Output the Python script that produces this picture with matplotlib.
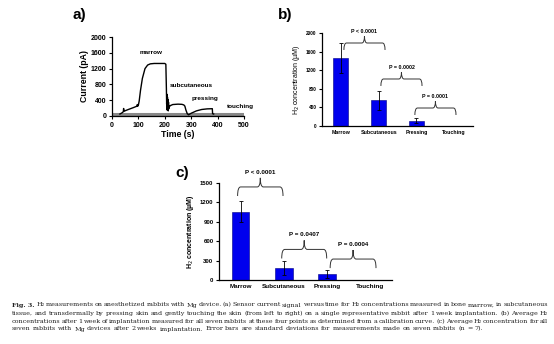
import matplotlib
matplotlib.use("Agg")
import matplotlib.pyplot as plt
from matplotlib.path import Path
from matplotlib.patches import PathPatch

plt.rcParams['font.family'] = ['Liberation Sans', 'DejaVu Sans']

# panel a: current trace from a single rabbit
time_s = [30, 38, 43, 44, 45, 47, 60, 80, 95, 96, 97, 100, 103, 108, 115, 125, 135, 145,
          160, 180, 200, 204, 206, 207, 208, 209, 210, 211, 212, 213, 214, 215, 216, 218,
          220, 230, 250, 265, 272, 276, 280, 285, 290, 300, 320, 340, 360, 380, 381, 385]
current_pa = [50, 80, 110, 190, 120, 125, 160, 210, 250, 290, 245, 280, 380, 650, 950, 1200,
              1290, 1320, 1330, 1330, 1330, 1310, 700, 300, 550, 150, 480, 200, 420, 130,
              350, 180, 260, 240, 260, 290, 300, 295, 280, 250, 150, 60, 30, 70, 130, 165,
              180, 185, 60, 50]
baseline_t = [0, 500]
baseline_pa = [50, 50]
trace_labels = ["marrow", "subcutaneous", "pressing", "touching"]
trace_label_x = [147, 302, 352, 487]
trace_label_y = [1614, 782, 454, 235]

# panels b and c: average H2 concentrations
sites = ["Marrow", "Subcutaneous", "Pressing", "Touching"]
week1_mean = [1455, 555, 115, 5]
week1_sd = [320, 205, 50, 0]
week2_mean = [1055, 185, 90, 3]
week2_sd = [165, 105, 62, 0]

week1_p = ["P < 0.0001", "P = 0.0002", "P = 0.0001"]
week1_brace_x = [(0.08, 1.17), (1.06, 2.15), (1.96, 3.05)]
week1_brace_y = [1785, 1011, 387]
week2_p = ["P < 0.0001", "P = 0.0407", "P = 0.0004"]
week2_brace_x = [(-0.07, 0.98), (0.95, 1.99), (2.07, 3.13)]
week2_brace_y = [1439, 473, 324]

caption_lines = [
    "H\u2082 measurements on anesthetized rabbits with Mg device. (a) Sensor current signal versus time for H\u2082 concentrations measured in bone marrow, in subcutaneous",
    "tissue, and transdermally by pressing skin and gently touching the skin (from left to right) on a single representative rabbit after 1 week implantation. (b) Average H\u2082",
    "concentrations after 1 week of implantation measured for all seven rabbits at these four points as determined from a calibration curve. (c) Average H\u2082 concentration for all",
    "seven rabbits with Mg devices after 2 weeks implantation. Error bars are standard deviations for measurements made on seven rabbits (n = 7).",
]

W, H = 554, 344
fig = plt.figure(figsize=(W / 100, H / 100), dpi=100)


def axes_px(l, t, r, b):
    return fig.add_axes([l / W, 1 - b / H, (r - l) / W, (b - t) / H])


def style(ax, size):
    for s in ("top", "right"):
        ax.spines[s].set_visible(False)
    for s in ("left", "bottom"):
        ax.spines[s].set_linewidth(0.9)
    ax.tick_params(labelsize=size, width=0.8, length=2.5, pad=1.5)
    for lab in ax.get_xticklabels() + ax.get_yticklabels():
        lab.set_fontweight("bold")


def brace(ax, x0, x1, y, d, r=0.07):
    xm = (x0 + x1) / 2
    verts = [(x0, y - d), (x0, y), (x0 + r, y),
             (xm - r, y), (xm, y), (xm, y + d),
             (xm, y), (xm + r, y),
             (x1 - r, y), (x1, y), (x1, y - d)]
    codes = [Path.MOVETO, Path.CURVE3, Path.CURVE3,
             Path.LINETO, Path.CURVE3, Path.CURVE3,
             Path.CURVE3, Path.CURVE3,
             Path.LINETO, Path.CURVE3, Path.CURVE3]
    ax.add_patch(PathPatch(Path(verts, codes), fill=False, lw=0.7,
                           edgecolor="#333333", clip_on=False))


# ---- panel a
ax = axes_px(112, 37, 244, 116)
ax.plot(baseline_t, baseline_pa, color="#888888", lw=2.2, solid_capstyle="butt")
ax.plot(time_s, current_pa, color="black", lw=1.0)
ax.set_xlim(0, 500)
ax.set_ylim(0, 2000)
ax.set_xticks(range(0, 501, 100))
ax.set_yticks(range(0, 2001, 400))
style(ax, 5)
ax.set_ylabel("Current (pA)", fontsize=6.3, fontweight="bold", labelpad=1)
ax.set_xlabel("Time (s)", fontsize=6.3, fontweight="bold", labelpad=1)
for t, x, y in zip(trace_labels, trace_label_x, trace_label_y):
    ax.text(x, y, t, fontsize=4.6, fontweight="bold", ha="center", va="center")
fig.text(79 / W, 1 - 15 / H, "a)", fontsize=11, fontweight="bold", ha="center", va="center")


def bar_panel(box, mean, sd, ymax, ystep, braces_x, braces_y, pvals, d, text_off,
              tick_fs, cat_fs, p_fs, ylab_fs, ylab_bold):
    ax = axes_px(*box)
    pos = range(len(sites))
    ax.bar(pos, mean, width=0.4, color="#0000ee", edgecolor="#000080", lw=0.4,
           yerr=sd, error_kw=dict(ecolor="black", elinewidth=0.6, capsize=1.5, capthick=0.6))
    ax.set_xlim(-0.5, len(sites) - 0.5)
    ax.set_ylim(0, ymax)
    ax.set_yticks(range(0, ymax + 1, ystep))
    ax.set_xticks(list(pos))
    ax.set_xticklabels(sites)
    style(ax, tick_fs)
    ax.tick_params(axis="x", length=0, labelsize=cat_fs, pad=3)
    ax.set_ylabel("H$_2$ concentration (\u00b5M)", fontsize=ylab_fs,
                  fontweight="bold" if ylab_bold else "normal", labelpad=3)
    for (x0, x1), y, p in zip(braces_x, braces_y, pvals):
        brace(ax, x0, x1, y, d)
        ax.text((x0 + x1) / 2, y + text_off, p, fontsize=p_fs, fontweight="bold",
                ha="center", va="center", clip_on=False)
    return ax


bar_panel((322, 33, 473, 126), week1_mean, week1_sd, 2000, 400, week1_brace_x,
          week1_brace_y, week1_p, 150, 240, 3.4, 3.8, 3.8, 5.0, False)
fig.text(285 / W, 1 - 15 / H, "b)", fontsize=11, fontweight="bold", ha="center", va="center")

bar_panel((219, 183, 392, 280), week2_mean, week2_sd, 1500, 300, week2_brace_x,
          week2_brace_y, week2_p, 140, 225, 4.3, 4.6, 4.5, 5.0, True)
fig.text(182 / W, 1 - 173 / H, "c)", fontsize=11, fontweight="bold", ha="center", va="center")

# ---- caption, justified line by line
renderer = fig.canvas.get_renderer()
cap_fam = ["DejaVu Serif"]
left, right = 12, 548
line_y = [305, 313.3, 321.3, 329]


def text_w(s, size, weight="normal"):
    t = fig.text(0, 0, s, fontsize=size, family=cap_fam, fontweight=weight)
    w = t.get_window_extent(renderer).width
    t.remove()
    return w


# pick a size so every justified line keeps at least a narrow word gap
ref = 10
space_ref = text_w("a a", ref) - 2 * text_w("a", ref)
head_ref = text_w("Fig. 3.", ref, "bold") + space_ref
cap_fs = 5.0
for i, line in enumerate(caption_lines[:-1]):
    words = line.split(" ")
    total = sum(text_w(w, ref) for w in words) + (head_ref if i == 0 else 0)
    need = total + 0.55 * (len(words) - 1) * space_ref
    cap_fs = min(cap_fs, ref * (right - left) / need)
space = space_ref * cap_fs / ref

for i, (line, ly) in enumerate(zip(caption_lines, line_y)):
    words = line.split(" ")
    x = left
    if i == 0:
        head = fig.text(x / W, 1 - ly / H, "Fig. 3.", fontsize=cap_fs, family=cap_fam,
                        fontweight="bold", va="center", color="#222222")
        x += head.get_window_extent(renderer).width + space
    arts = []
    total = 0
    for w in words:
        t = fig.text(0, 1 - ly / H, w, fontsize=cap_fs, family=cap_fam, va="center",
                     color="#222222")
        wd = t.get_window_extent(renderer).width
        arts.append((t, wd))
        total += wd
    if i < len(caption_lines) - 1:
        gap = (right - x - total) / (len(words) - 1)
    else:
        gap = space
    for t, wd in arts:
        t.set_x(x / W)
        x += wd + gap

fig.savefig("out.png", dpi=100)
